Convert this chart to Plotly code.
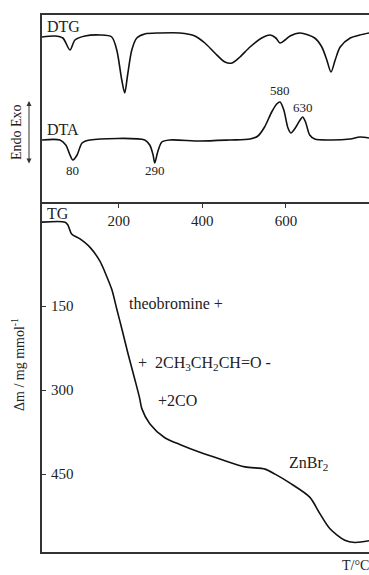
import plotly.graph_objects as go

# ---- data ----
dtg_T = [16, 47, 66, 83, 95, 119, 155, 183, 195, 207, 214, 221, 231, 243, 262, 298, 346, 382,
         406, 430, 454, 471, 490, 514, 542, 562, 576, 586, 598, 610, 634, 669, 686, 698, 708,
         718, 730, 754, 777, 799]
dtg_v = [165, 166, 164, 152, 162, 166, 167, 165, 152, 122, 109, 127, 152, 164, 168, 169, 169, 166,
         159, 149, 140, 139, 145, 155, 164, 167, 164, 159, 162, 166, 169, 164, 155, 142, 130,
         142, 155, 164, 167, 169]

dta_T = [16, 59, 73, 83, 90, 100, 112, 131, 262, 274, 282, 286, 293, 303, 322, 394, 466, 514,
         533, 549, 566, 578, 586, 595, 605, 612, 624, 634, 640, 647, 657, 669, 705, 754, 777, 799]
dta_v = [62, 62, 57, 47, 42, 47, 59, 62, 62, 57, 47, 39, 50, 60, 62, 61, 62, 63,
         66, 75, 90, 98, 100, 92, 74, 69, 75, 82, 85, 80, 67, 63, 62, 63, 65, 64]

tg_T = [16, 71, 78, 87, 107, 131, 155, 166, 183, 195, 207, 222, 238, 250, 255, 274, 310, 346,
        394, 442, 502, 550, 574, 610, 657, 681, 705, 741, 765, 799]
tg_dm = [0, 0, 5, 21, 30, 45, 70, 88, 120, 155, 190, 235, 280, 315, 333, 360, 385, 397,
         411, 423, 437, 441, 450, 466, 491, 520, 547, 568, 572, 569]

x_ticks = [200, 400, 600]
tg_ticks = [150, 300, 450]
peak_labels = ["80", "290", "580", "630"]
peak_T = [88, 286, 585, 640]
peak_v = [32, 32, 112, 95]

# ---- figure ----
W, H = 369, 575
ml, mr, mt, mb = 42, 0, 15, 23
pw, ph = W - ml - mr, H - mt - mb
def px(x):
    return (x - ml) / pw
def py(y):
    return (H - mb - y) / ph

split = py(202)
FONT = "Liberation Serif"
TXT = "#222222"
AX = "#333333"

fig = go.Figure()
fig.add_trace(go.Scatter(x=dtg_T, y=dtg_v, mode="lines", xaxis="x2", yaxis="y2",
                         line=dict(color="#111", width=1.6, shape="spline", smoothing=0.8),
                         showlegend=False, hoverinfo="skip"))
fig.add_trace(go.Scatter(x=dta_T, y=dta_v, mode="lines", xaxis="x2", yaxis="y2",
                         line=dict(color="#111", width=1.6, shape="spline", smoothing=0.8),
                         showlegend=False, hoverinfo="skip"))
fig.add_trace(go.Scatter(x=tg_T, y=tg_dm, mode="lines", xaxis="x", yaxis="y",
                         line=dict(color="#111", width=1.6, shape="spline", smoothing=0.8),
                         showlegend=False, hoverinfo="skip"))

xr = [16, 799]
fig.update_layout(
    width=W, height=H, margin=dict(l=ml, r=mr, t=mt, b=mb),
    paper_bgcolor="white", plot_bgcolor="white",
    font=dict(family=FONT, color=TXT, size=15),
    xaxis=dict(domain=[0, 1], range=xr, anchor="y", showline=True, linecolor=AX, linewidth=2,
               showgrid=False, zeroline=False, ticks="", showticklabels=False),
    yaxis=dict(domain=[0, split], range=[589, -36], anchor="x", showline=True, linecolor=AX,
               linewidth=2, showgrid=False, zeroline=False, tickvals=tg_ticks,
               ticks="inside", ticklen=4, tickcolor=AX, ticklabelposition="inside",
               ticklabelstandoff=5,
               tickfont=dict(size=15, family=FONT, color=TXT)),
    xaxis2=dict(domain=[0, 1], range=xr, anchor="y2", showline=True, mirror=True, linecolor=AX,
                linewidth=2, showgrid=False, zeroline=False, tickvals=x_ticks,
                ticks="outside", ticklen=4, tickcolor=AX,
                tickfont=dict(size=15, family=FONT, color=TXT)),
    yaxis2=dict(domain=[split, 1], range=[0, 187], anchor="x2", showline=True, linecolor=AX,
                linewidth=2, showgrid=False, zeroline=False, ticks="", showticklabels=False),
)

ann = []
def txt(t, x, y, size=15, xanchor="left", yanchor="middle", angle=0, xref="paper", yref="paper"):
    ann.append(dict(text=t, x=x, y=y, xref=xref, yref=yref, xanchor=xanchor, yanchor=yanchor,
                    showarrow=False, textangle=angle, font=dict(size=size, family=FONT, color=TXT)))

txt("DTG", px(45), py(27), 16)
txt("DTA", px(45), py(129), 16)
txt("TG", px(45), py(213), 16)
for lab, T, v in zip(peak_labels, peak_T, peak_v):
    txt(lab, T, v, 13, xanchor="center", xref="x2", yref="y2")

txt("theobromine +", px(127), py(303), 16)
txt("+  2CH<sub>3</sub>CH<sub>2</sub>CH=O -", px(136), py(363), 16)
txt("+2CO", px(156), py(400), 16)
txt("ZnBr<sub>2</sub>", px(287), py(463), 16)
txt("T/°C", px(340), py(565), 14)

txt("Endo Exo", px(16), py(132), 14, xanchor="center", angle=-90)
txt("Δm / mg mmol<sup>-1</sup>", px(18), py(365), 14, xanchor="center", angle=-90)

ann.append(dict(text="", x=px(29), y=py(101), xref="paper", yref="paper",
                showarrow=True, ax=0, ay=64, arrowside="end+start", arrowhead=2,
                arrowsize=1, arrowwidth=1, arrowcolor=AX))

fig.update_layout(annotations=ann)
fig.write_html("out.html")
